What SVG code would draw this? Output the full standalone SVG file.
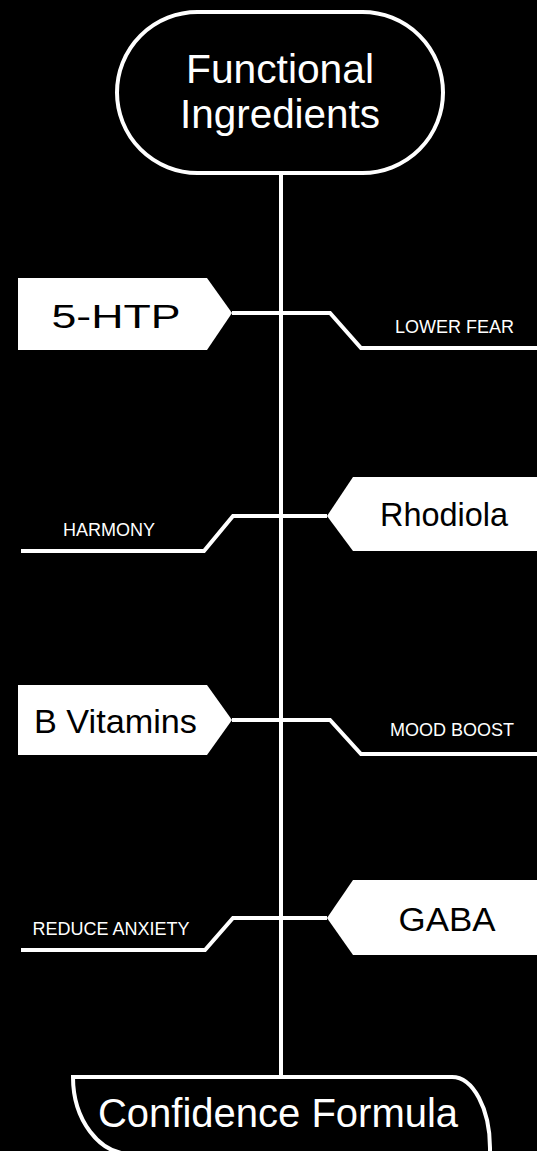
<svg xmlns="http://www.w3.org/2000/svg" width="537" height="1151" viewBox="0 0 537 1151">
<style>
.ln{fill:none;stroke:#fff;stroke-width:4;stroke-linejoin:miter}
.tag{fill:#fff;stroke:none}
.t{font-family:"Liberation Sans",Arial,sans-serif}
.big{font-size:40px;fill:#fff;text-anchor:middle}
.tt{font-size:34px;fill:#000;text-anchor:middle}
.lab{font-size:18px;fill:#fff}
</style>
<rect x="0" y="0" width="537" height="1151" fill="#000"/>
<g id="connectors">
<line class="ln" x1="281" y1="173" x2="281" y2="1077"/>
<polyline class="ln" points="232,313 330,313 361,348 537,348"/>
<polyline class="ln" points="21,551 204,551 233,516 327,516"/>
<polyline class="ln" points="232,720 330,720 361,754 537,754"/>
<polyline class="ln" points="21,950 205,950 233,918 327,918"/>
</g>
<g id="functional-ingredients">
<rect class="ln" x="117" y="12" width="326" height="161" rx="80.5" ry="80.5"/>
<text class="t big" x="280" y="83" font-size="43" textLength="188" lengthAdjust="spacingAndGlyphs">Functional</text>
<text class="t big" x="280" y="128" font-size="43" textLength="200" lengthAdjust="spacingAndGlyphs">Ingredients</text>
</g>
<g id="htp">
<polygon class="tag" points="18,278 207,278 232,313 207,350 18,350"/>
<text class="t tt" x="116" y="328" font-size="41" textLength="129" lengthAdjust="spacingAndGlyphs">5-HTP</text>
</g>
<g id="lower-fear">
<text class="t lab" x="514" y="333" text-anchor="end">LOWER FEAR</text>
</g>
<g id="rhodiola">
<polygon class="tag" points="327,516 353,477 537,477 537,551 353,551"/>
<text class="t tt" x="444" y="526" font-size="34" textLength="128" lengthAdjust="spacingAndGlyphs">Rhodiola</text>
</g>
<g id="harmony">
<text class="t lab" x="63" y="536">HARMONY</text>
</g>
<g id="b-vitamins">
<polygon class="tag" points="18,685 207,685 232,720 207,755 18,755"/>
<text class="t tt" x="115.5" y="733" font-size="35" textLength="163" lengthAdjust="spacingAndGlyphs">B Vitamins</text>
</g>
<g id="mood-boost">
<text class="t lab" x="514" y="736" text-anchor="end">MOOD BOOST</text>
</g>
<g id="gaba">
<polygon class="tag" points="327,918 353,880 537,880 537,955 353,955"/>
<text class="t tt" x="447" y="931" font-size="39" textLength="97" lengthAdjust="spacingAndGlyphs">GABA</text>
</g>
<g id="reduce-anxiety">
<text class="t lab" x="32.5" y="935">REDUCE ANXIETY</text>
</g>
<g id="confidence-formula">
<path class="ln" d="M490,1165 L490,1148 A38,71 0 0 0 452,1077 L73,1077 A58,77 0 0 0 131,1154"/>
<text class="t big" x="278" y="1127">Confidence Formula</text>
</g>
</svg>
